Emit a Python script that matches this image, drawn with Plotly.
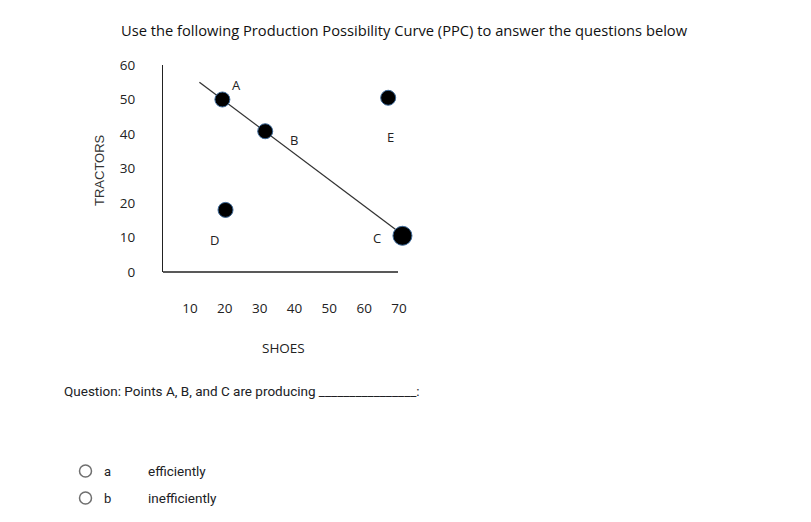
import plotly.graph_objects as go

# ---- data ----
point_labels = ["A", "B", "C", "D", "E"]
shoes = [19.3, 31.6, 71, 20.2, 66.9]
tractors = [50, 40.8, 10.5, 18, 50.5]
ppc_shoes = [12.7, 70]
ppc_tractors = [55, 11.6]
x_ticks = [10, 20, 30, 40, 50, 60, 70]
y_ticks = [0, 10, 20, 30, 40, 50, 60]

title_text = "Use the following Production Possibility Curve (PPC) to answer the questions below"
question_text = "Question: Points A, B, and C are producing ________________:"
option_keys = ["a", "b"]
option_texts = ["efficiently", "inefficiently"]

# ---- layout geometry (pixels) ----
W, H = 811, 522
L, R, T, B = 163, 406, 65, 272
AXIS_END = 398


def px(x):
    return (x - L) / (R - L)


def py(y):
    return (B - y) / (B - T)


chart_font = "Open Sans"
ui_font = "Roboto"

fig = go.Figure()
fig.add_trace(go.Scatter(
    x=ppc_shoes, y=ppc_tractors, mode="lines",
    line=dict(color="#333333", width=1.3), hoverinfo="skip", showlegend=False,
))
sizes = [15, 15, 19, 15, 15]
fig.add_trace(go.Scatter(
    x=shoes, y=tractors, mode="markers",
    marker=dict(color="black", size=sizes, opacity=1, line=dict(color="#3d6a9a", width=1)),
    cliponaxis=False, showlegend=False, text=point_labels,
))

offsets = {"A": (14, 15), "B": (29, -9), "C": (-25, -2), "D": (-11, -30), "E": (2, -39)}
for lab, xv, yv in zip(point_labels, shoes, tractors):
    dx, dy = offsets[lab]
    fig.add_annotation(x=xv, y=yv, text=lab, showarrow=False, xshift=dx, yshift=dy,
                       font=dict(family=chart_font, size=13, color="#222"))

# x axis baseline (stops short of the plot's right edge, as in the original)
fig.add_shape(type="line", xref="paper", yref="paper", x0=0, x1=px(AXIS_END), y0=0, y1=0,
              line=dict(color="#222", width=1.3))

# title
fig.add_annotation(x=px(119), y=py(30), xref="paper", yref="paper", text=title_text,
                   showarrow=False, xanchor="left", yanchor="middle",
                   font=dict(family=chart_font, size=14.7, color="#111"))
# y axis title
fig.add_annotation(x=px(99), y=py(170), xref="paper", yref="paper", text="TRACTORS",
                   textangle=-90, showarrow=False, xanchor="center", yanchor="middle",
                   font=dict(family="Liberation Sans", size=13, color="#333"))
# x axis title
fig.add_annotation(x=px(283), y=py(348), xref="paper", yref="paper", text="SHOES",
                   showarrow=False, xanchor="center", yanchor="middle",
                   font=dict(family=chart_font, size=13.5, color="#222"))
# question
fig.add_annotation(x=px(62), y=py(391), xref="paper", yref="paper", text=question_text,
                   showarrow=False, xanchor="left", yanchor="middle",
                   font=dict(family=ui_font, size=13.5, color="#202124"))
# options
for i, (k, t) in enumerate(zip(option_keys, option_texts)):
    yy = 471 + i * 27
    fig.add_annotation(x=px(107), y=py(yy), xref="paper", yref="paper", text=k,
                       showarrow=False, xanchor="center", yanchor="middle",
                       font=dict(family=ui_font, size=13, color="#202124"))
    fig.add_annotation(x=px(146), y=py(yy), xref="paper", yref="paper", text=t,
                       showarrow=False, xanchor="left", yanchor="middle",
                       font=dict(family=ui_font, size=13.5, color="#202124"))
    fig.add_shape(type="circle", xref="paper", yref="paper",
                  x0=px(85.5 - 6), x1=px(85.5 + 6), y0=py(yy + 6), y1=py(yy - 6),
                  line=dict(color="#6f6f6f", width=1.5), fillcolor="white")

x_lo = 2.25
x_hi = x_lo + (R - L) / 34.83 * 10
fig.update_xaxes(range=[x_lo, x_hi], tickvals=x_ticks, showgrid=False, zeroline=False,
                 showline=False, ticks="",
                 ticklabelstandoff=26, tickfont=dict(family=chart_font, size=13.5, color="#222"))
fig.update_yaxes(range=[0, 60], tickvals=y_ticks, showgrid=False, zeroline=False,
                 showline=True, linecolor="#222", linewidth=1.3, ticks="",
                 ticklabelstandoff=24, tickfont=dict(family=chart_font, size=13.5, color="#222"))

fig.update_layout(
    width=W, height=H, margin=dict(l=L, r=W - R, t=T, b=H - B),
    paper_bgcolor="white", plot_bgcolor="white", showlegend=False,
)

fig.write_html("out.html")
